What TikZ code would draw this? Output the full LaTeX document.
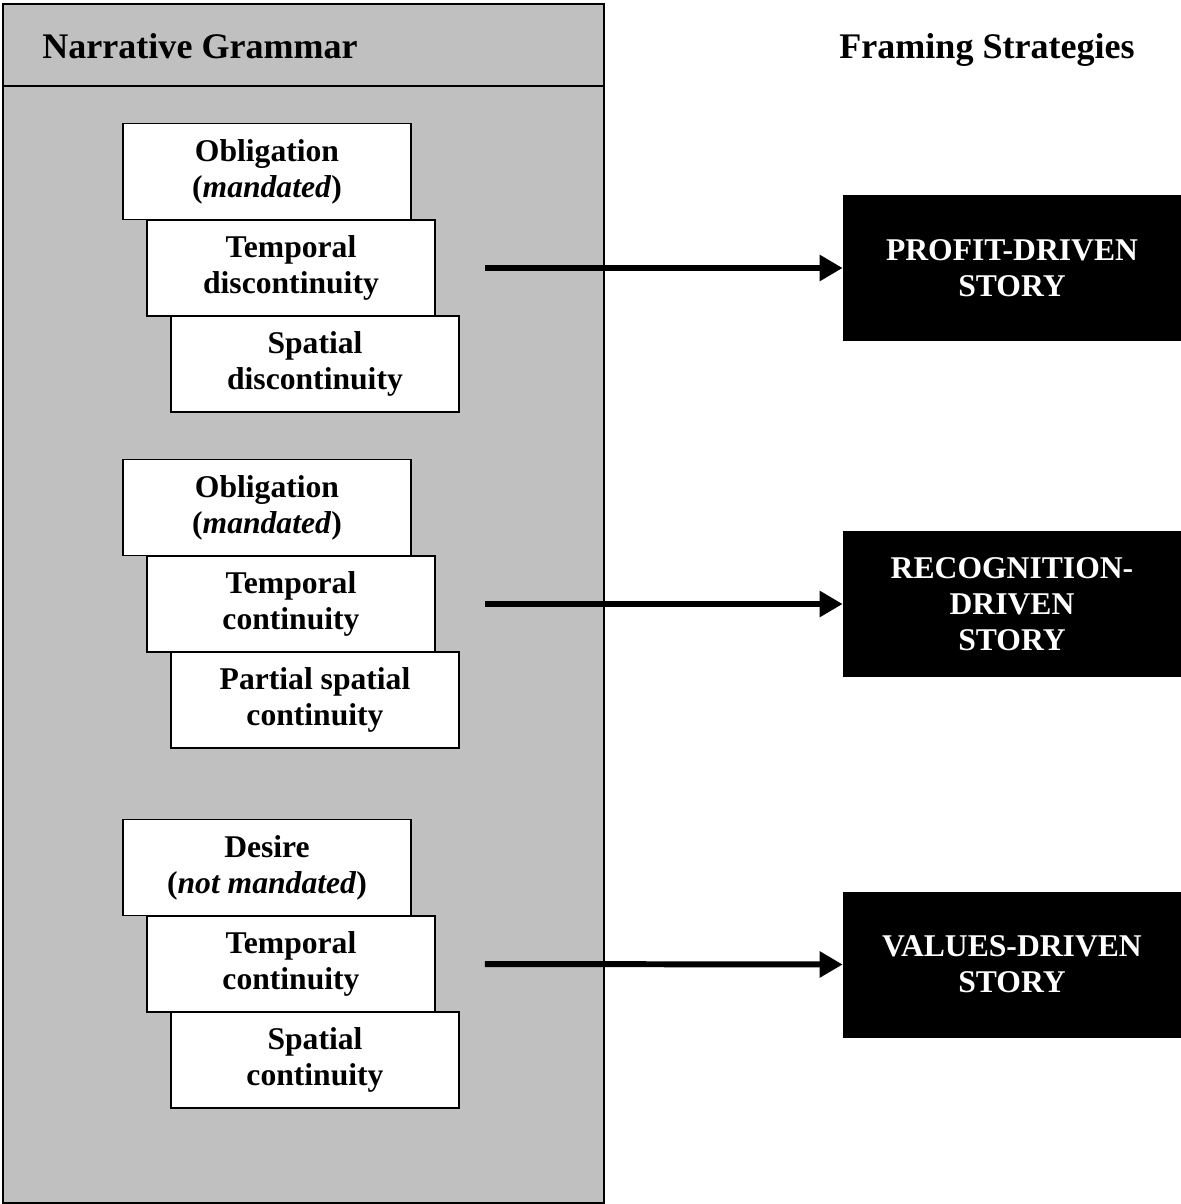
\documentclass[tikz,border=0pt]{standalone}
\usepackage{fontspec}
\setmainfont{Liberation Serif}
\usetikzlibrary{arrows.meta}
\definecolor{panelgray}{RGB}{192,192,192}
\tikzset{
  panel/.style   = { draw, fill=panelgray, line width=1.1pt },
  heading/.style = { anchor=base, font=\fontsize{20.5}{24}\selectfont\bfseries },
  stage/.style   = { draw, fill=white, line width=1pt, minimum width=5.76cm,
                     minimum height=1.92cm, align=center,
                     font=\fontsize{18}{20.5}\selectfont\bfseries },
  story/.style   = { fill=black, text=white, minimum width=6.76cm,
                     minimum height=2.92cm, align=center,
                     font=\fontsize{18}{20.5}\selectfont\bfseries },
  link/.style    = { line width=3.4pt, -{Triangle[length=0.46cm,width=0.5cm]} }
}

\begin{document}
\begin{tikzpicture}
  \useasboundingbox (0,0) rectangle (23.62,-24.08);
  % Draw the grammar panel
  \node[panel, minimum width=12.02cm, minimum height=23.98cm, anchor=north west] (grammar) at (0.04,-0.06) {};
  \draw[line width=1.1pt] (0.04,-1.72) -- (12.06,-1.72);
  \node[heading] (grammarhead) at (4.0,-1.18) {Narrative Grammar};
  \node[heading] (framinghead) at (19.74,-1.18) {Framing Strategies};
  % Draw all stages
  \node[stage] (obl1) at (5.34,-3.43)  {Obligation\\(\textit{mandated})};
  \node[stage] (tem1) at (5.82,-5.36)  {Temporal\\discontinuity};
  \node[stage] (spa1) at (6.30,-7.28)  {Spatial\\discontinuity};
  \node[stage] (obl2) at (5.34,-10.15) {Obligation\\(\textit{mandated})};
  \node[stage] (tem2) at (5.82,-12.08) {Temporal\\continuity};
  \node[stage] (spa2) at (6.30,-14.00) {Partial spatial\\continuity};
  \node[stage] (des3) at (5.34,-17.35) {Desire\\(\textit{not mandated})};
  \node[stage] (tem3) at (5.82,-19.28) {Temporal\\continuity};
  \node[stage] (spa3) at (6.30,-21.20) {Spatial\\continuity};
  % Draw stories
  \node[story] (profit) at (20.24,-5.36)  {PROFIT-DRIVEN\\STORY};
  \node[story] (recog)  at (20.24,-12.08) {RECOGNITION-\\DRIVEN\\STORY};
  \node[story] (values) at (20.24,-19.29) {VALUES-DRIVEN\\STORY};
  % Draw links
  \coordinate (from1) at ([xshift=0.98cm]tem1.east);
  \coordinate (from2) at ([xshift=0.98cm]tem2.east);
  \coordinate (from3) at ([xshift=0.98cm]tem3.east);
  \draw[link] (from1) -- (profit.west);
  \draw[link] (from2) -- (recog.west);
  \draw[link] (from3) -- (values.west);
\end{tikzpicture}
\end{document}
